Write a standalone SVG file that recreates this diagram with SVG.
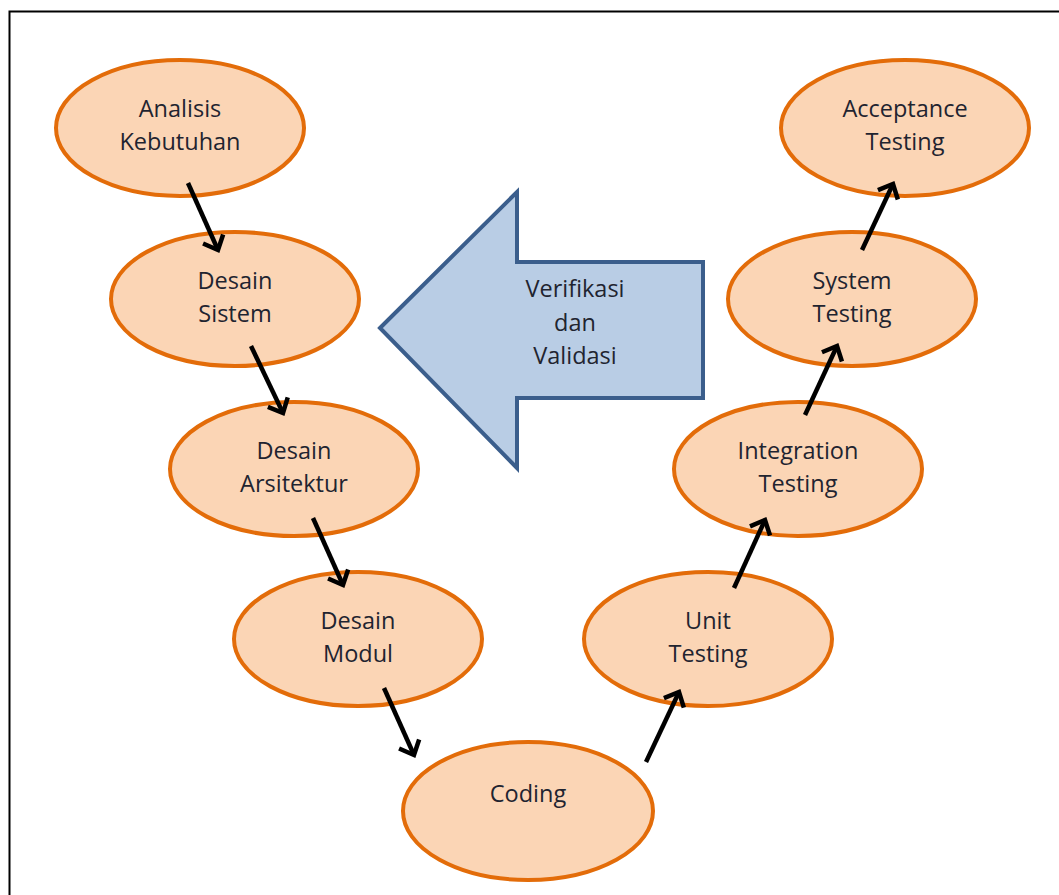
<svg xmlns="http://www.w3.org/2000/svg" width="1059" height="895" viewBox="0 0 1059 895">
<defs>
<style>
.node ellipse{fill:#FBD5B5;stroke:#E36C09;stroke-width:4}
text{font-family:"Open Sans","Liberation Sans",Arial,sans-serif;font-size:23.5px;fill:#1f2430;text-anchor:middle}
.conn line{stroke:#000;stroke-width:4.5;marker-end:url(#ah)}
</style>
<marker id="ah" markerUnits="userSpaceOnUse" viewBox="-16 -14 20 28" markerWidth="20" markerHeight="28" refX="0" refY="0" orient="auto">
<path d="M-12,-11 L0,0 L-12,11" fill="none" stroke="#000" stroke-width="4.5" stroke-linejoin="miter"/>
</marker>
</defs>
<rect x="0" y="0" width="1059" height="895" fill="#fff"/>
<path d="M9.5,895 V11.5 H1059" fill="none" stroke="#000" stroke-width="2"/>
<g id="verifikasi">
<path d="M380,328 L517,192 L517,262 L703,262 L703,398 L517,398 L517,468 Z" fill="#B9CDE5" stroke="#3B5E8C" stroke-width="4" stroke-linejoin="miter"/>
<text x="575" y="297">Verifikasi</text>
<text x="575" y="331">dan</text>
<text x="575" y="364">Validasi</text>
</g>
<g class="node" id="analisis"><ellipse cx="180" cy="128" rx="124" ry="68"/><text x="180" y="117">Analisis</text><text x="180" y="150">Kebutuhan</text></g>
<g class="node" id="desain-sistem"><ellipse cx="235" cy="299" rx="124" ry="67"/><text x="235" y="289">Desain</text><text x="235" y="322">Sistem</text></g>
<g class="node" id="desain-arsitektur"><ellipse cx="294" cy="469" rx="124" ry="67"/><text x="294" y="459">Desain</text><text x="294" y="492">Arsitektur</text></g>
<g class="node" id="desain-modul"><ellipse cx="358" cy="639" rx="124" ry="67"/><text x="358" y="629">Desain</text><text x="358" y="662">Modul</text></g>
<g class="node" id="coding"><ellipse cx="528" cy="811" rx="125" ry="69"/><text x="528" y="802">Coding</text></g>
<g class="node" id="unit-testing"><ellipse cx="708" cy="639" rx="124" ry="67"/><text x="708" y="629">Unit</text><text x="708" y="662">Testing</text></g>
<g class="node" id="integration-testing"><ellipse cx="798" cy="469" rx="124" ry="67"/><text x="798" y="459">Integration</text><text x="798" y="492">Testing</text></g>
<g class="node" id="system-testing"><ellipse cx="852" cy="299" rx="124" ry="67"/><text x="852" y="289">System</text><text x="852" y="322">Testing</text></g>
<g class="node" id="acceptance-testing"><ellipse cx="905" cy="128" rx="124" ry="68"/><text x="905" y="117">Acceptance</text><text x="905" y="150">Testing</text></g>
<g class="conn" id="connectors">
<line x1="188" y1="183" x2="218" y2="250"/>
<line x1="251" y1="346" x2="283" y2="413"/>
<line x1="313" y1="518" x2="343" y2="585"/>
<line x1="384" y1="688" x2="414" y2="755"/>
<line x1="646" y1="762" x2="679" y2="692"/>
<line x1="734" y1="588" x2="765" y2="520"/>
<line x1="805" y1="415" x2="837" y2="346"/>
<line x1="862" y1="250" x2="893" y2="184"/>
</g>
</svg>
